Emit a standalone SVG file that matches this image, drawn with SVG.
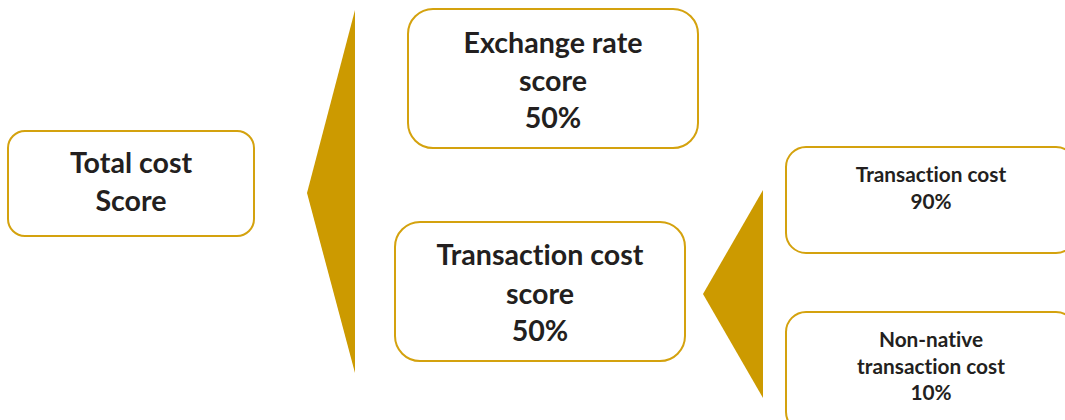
<svg xmlns="http://www.w3.org/2000/svg" width="1065" height="420" viewBox="0 0 1065 420">
  <style>
    .box { fill: #ffffff; stroke: #D4A20E; stroke-width: 2; }
    .arrow { fill: #CC9A00; stroke: none; }
    .lbl { font-family: Lato, "Open Sans", "Liberation Sans", sans-serif; font-weight: 700; fill: #231F20; text-anchor: middle; font-variant-ligatures: none; font-feature-settings: "liga" 0, "dlig" 0; }
    .big { font-size: 28.6px; }
    .small { font-size: 20.8px; }
  </style>
  <rect width="1065" height="420" fill="#ffffff"/>

  <g id="connectors">
    <polygon class="arrow" points="355,10 307,193 355,373"/>
    <polygon class="arrow" points="763,190 703,294 763,398"/>
  </g>

  <g id="total-cost">
    <rect class="box" x="8" y="131" width="246" height="105" rx="17"/>
    <text class="lbl big" x="131" y="173">Total cost</text>
    <text class="lbl big" x="131" y="211">Score</text>
  </g>

  <g id="exchange-rate">
    <rect class="box" x="408" y="9" width="290" height="139" rx="25"/>
    <text class="lbl big" x="553" y="53">Exchange rate</text>
    <text class="lbl big" x="553" y="91">score</text>
    <text class="lbl big" x="553" y="128">50%</text>
  </g>

  <g id="transaction-cost-score">
    <rect class="box" x="395" y="222" width="290" height="139" rx="25"/>
    <text class="lbl big" x="540" y="265">Transaction cost</text>
    <text class="lbl big" x="540" y="304">score</text>
    <text class="lbl big" x="540" y="341">50%</text>
  </g>

  <g id="transaction-cost">
    <rect class="box" x="786" y="147" width="290" height="106" rx="20"/>
    <text class="lbl small" x="931" y="182">Transaction cost</text>
    <text class="lbl small" x="931" y="209">90%</text>
  </g>

  <g id="non-native-cost">
    <rect class="box" x="786" y="312" width="290" height="120" rx="20"/>
    <text class="lbl small" x="931" y="347">Non-native</text>
    <text class="lbl small" x="931" y="374">transaction cost</text>
    <text class="lbl small" x="931" y="400">10%</text>
  </g>
</svg>
